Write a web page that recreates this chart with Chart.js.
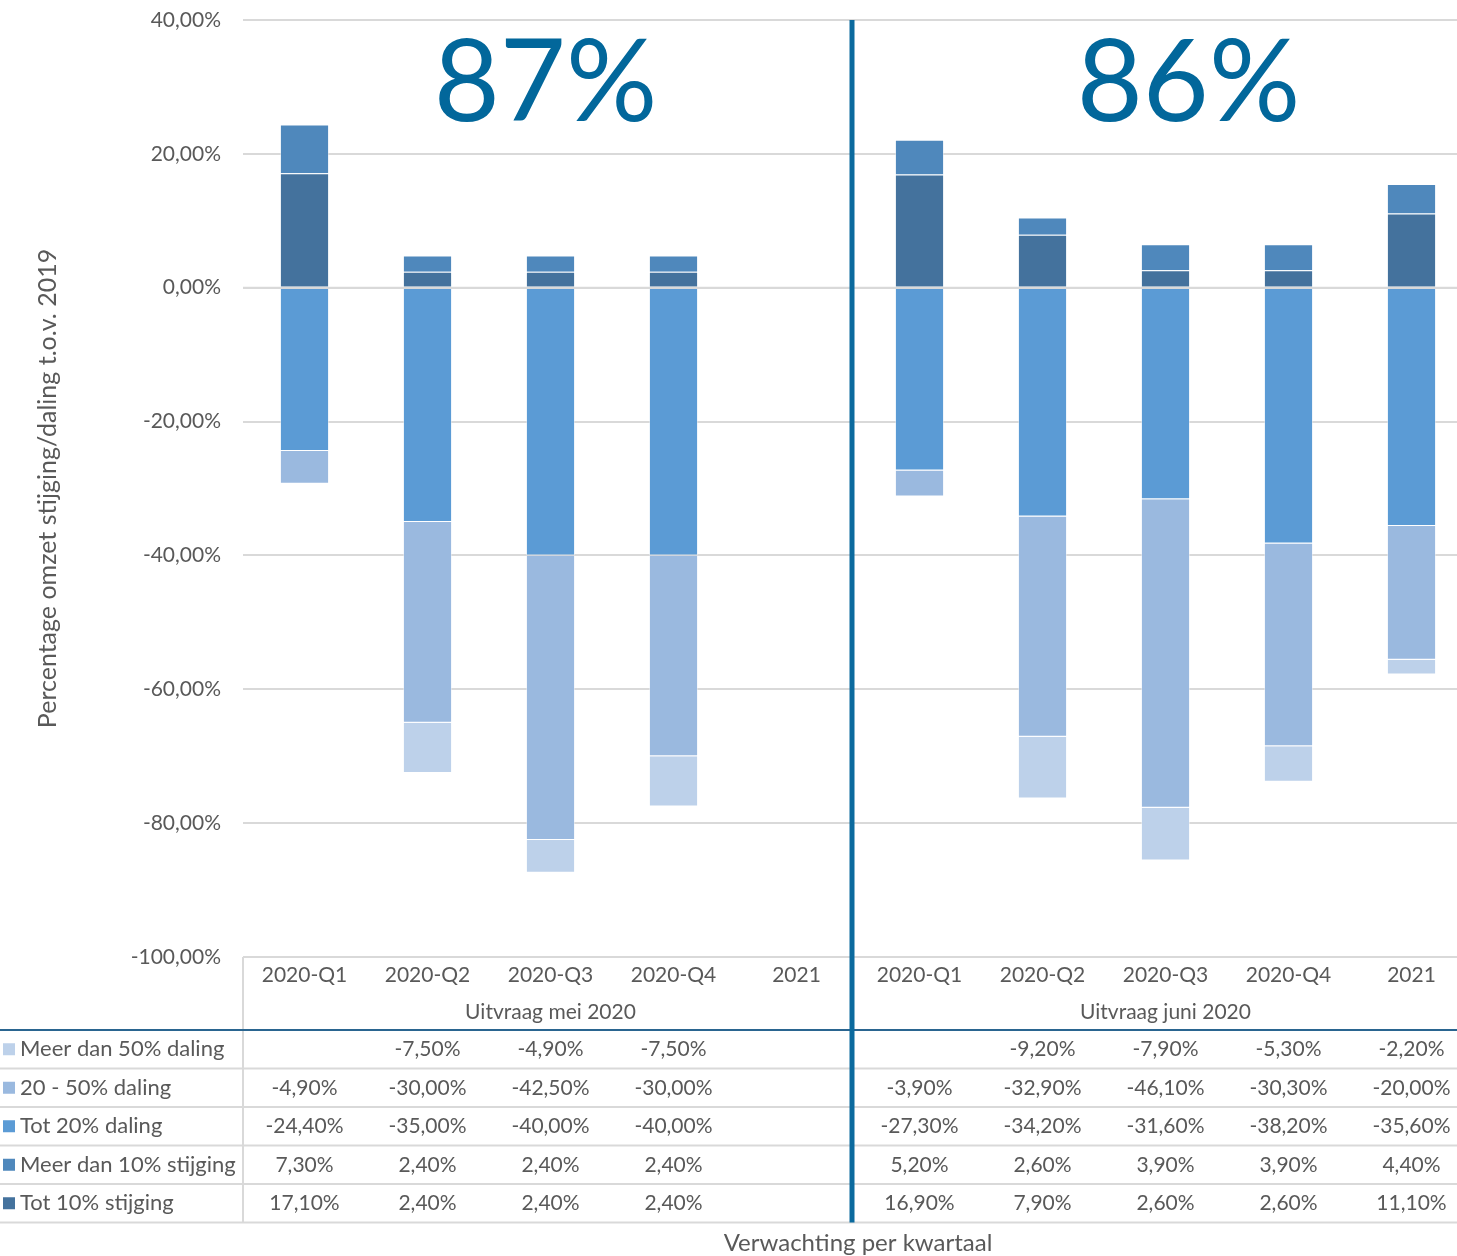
<!DOCTYPE html>
<html lang="nl">
  <head>
    <meta charset="UTF-8" />
    <title>Verwachting per kwartaal</title>
    <script src="https://cdn.jsdelivr.net/npm/chart.js"></script>
    <style>
      body { margin: 0; background: #ffffff; overflow: hidden; }
      /* het plotgebied loopt aan de rechterkant net buiten beeld door */
      #wrap { width: 1473px; height: 1256px; }
    </style>
  </head>
  <body>
    <div id="wrap"><canvas id="omzetChart" width="1473" height="1256"></canvas></div>

    <script>
      // Categorieen en groepen
      const kwartalen = ["2020-Q1", "2020-Q2", "2020-Q3", "2020-Q4", "2021",
                         "2020-Q1", "2020-Q2", "2020-Q3", "2020-Q4", "2021"];
      const groepen = ["Uitvraag mei 2020", "Uitvraag juni 2020"];
      const koppen = ["87%", "86%"];

      // Reeksen (percentages), null = geen waarde
      const tot10Stijging   = [17.1, 2.4, 2.4, 2.4, null, 16.9, 7.9, 2.6, 2.6, 11.1];
      const meer10Stijging  = [7.3, 2.4, 2.4, 2.4, null, 5.2, 2.6, 3.9, 3.9, 4.4];
      const tot20Daling     = [-24.4, -35.0, -40.0, -40.0, null, -27.3, -34.2, -31.6, -38.2, -35.6];
      const daling20tot50   = [-4.9, -30.0, -42.5, -30.0, null, -3.9, -32.9, -46.1, -30.3, -20.0];
      const meer50Daling    = [null, -7.5, -4.9, -7.5, null, null, -9.2, -7.9, -5.3, -2.2];

      // y-as
      const yMin = -100, yMax = 40, yStap = 20;

      const tekstKleur = "#595959";
      const lettertype = "Lato, 'Open Sans', sans-serif";

      function fmt(v) {
        if (v === null || v === undefined) return "";
        return v.toFixed(2).replace(".", ",") + "%";
      }

      // Tabel onder de grafiek + scheidingslijn + grote koppen
      const tabelPlugin = {
        id: "tabel",
        afterDatasetsDraw(chart) {
          const { ctx, chartArea, scales } = chart;
          // nul-lijn over de balken heen
          const y0 = scales.y.getPixelForValue(0);
          ctx.save();
          ctx.strokeStyle = "#D9D9D9";
          ctx.lineWidth = 2;
          ctx.beginPath();
          ctx.moveTo(chartArea.left, y0);
          ctx.lineTo(chartArea.right, y0);
          ctx.stroke();
          ctx.restore();
        },
        afterDraw(chart) {
          const { ctx, chartArea, scales } = chart;
          const x = scales.x;
          const W = chart.width;
          const rijTop = 1030, rijH = 38.5;
          ctx.save();

          // lijnen tabel
          ctx.strokeStyle = "#D9D9D9";
          ctx.lineWidth = 2;
          ctx.beginPath();
          ctx.moveTo(chartArea.left, chartArea.bottom);
          ctx.lineTo(chartArea.left, rijTop + 5 * rijH);
          for (let r = 1; r <= 5; r++) {
            ctx.moveTo(0, rijTop + r * rijH);
            ctx.lineTo(W, rijTop + r * rijH);
          }
          ctx.stroke();
          ctx.strokeStyle = "#2A6590";
          ctx.lineWidth = 2;
          ctx.beginPath();
          ctx.moveTo(0, rijTop);
          ctx.lineTo(W, rijTop);
          ctx.stroke();

          // kwartaal labels
          ctx.fillStyle = tekstKleur;
          ctx.font = "21px " + lettertype;
          ctx.textAlign = "center";
          ctx.textBaseline = "middle";
          kwartalen.forEach((k, i) => ctx.fillText(k, x.getPixelForValue(i), 975));
          groepen.forEach((g, gi) => {
            const midden = (x.getPixelForValue(gi * 5) + x.getPixelForValue(gi * 5 + 4)) / 2;
            ctx.fillText(g, midden, 1012);
          });

          // rijen: van boven naar beneden in omgekeerde dataset volgorde
          const sets = chart.data.datasets.slice().reverse();
          sets.forEach((ds, r) => {
            const yc = rijTop + r * rijH + rijH / 2;
            ctx.fillStyle = ds.backgroundColor;
            ctx.fillRect(3, yc - 6, 12, 12);
            ctx.fillStyle = tekstKleur;
            ctx.textAlign = "left";
            ctx.font = "22px " + lettertype;
            ctx.fillText(ds.label, 20, yc);
            ctx.textAlign = "center";
            ctx.font = "21px " + lettertype;
            ds.data.forEach((v, i) => ctx.fillText(fmt(v), x.getPixelForValue(i), yc));
          });

          // as titel x
          ctx.font = "24px " + lettertype;
          ctx.fillText("Verwachting per kwartaal", (chartArea.left + chartArea.right) / 2, 1243);

          // scheidingslijn tussen de twee uitvragen
          const sx = (x.getPixelForValue(4) + x.getPixelForValue(5)) / 2 - 6;
          ctx.strokeStyle = "#0B6A9E";
          ctx.lineWidth = 5;
          ctx.beginPath();
          ctx.moveTo(sx, chartArea.top);
          ctx.lineTo(sx, rijTop + 5 * rijH);
          ctx.stroke();

          // grote koppen (tekstvakken, iets verschoven t.o.v. het groepsmidden)
          const kopVerschuiving = [-5, 23];
          ctx.fillStyle = "#02679B";
          ctx.font = "114px " + lettertype;
          ctx.textBaseline = "alphabetic";
          koppen.forEach((k, gi) => {
            const midden = (x.getPixelForValue(gi * 5) + x.getPixelForValue(gi * 5 + 4)) / 2;
            ctx.fillText(k, midden + kopVerschuiving[gi], 121);
          });
          ctx.restore();
        },
      };

      const randKleur = "rgba(255, 255, 255, 0.45)";
      const ctx = document.getElementById("omzetChart").getContext("2d");
      const omzetChart = new Chart(ctx, {
        type: "bar",
        data: {
          labels: kwartalen,
          datasets: [
            { label: "Tot 10% stijging", data: tot10Stijging, backgroundColor: "#44729D" },
            { label: "Meer dan 10% stijging", data: meer10Stijging, backgroundColor: "#4F88BC" },
            { label: "Tot 20% daling", data: tot20Daling, backgroundColor: "#5B9BD5" },
            { label: "20 - 50% daling", data: daling20tot50, backgroundColor: "#9AB9DF" },
            { label: "Meer dan 50% daling", data: meer50Daling, backgroundColor: "#BDD1EA" },
          ],
        },
        options: {
          responsive: false,
          animation: false,
          layout: { padding: { top: 20, bottom: 299, left: 0, right: 0 } },
          datasets: {
            bar: {
              barPercentage: 0.4,
              categoryPercentage: 1.0,
              borderColor: randKleur,
              borderWidth: 1,
            },
          },
          plugins: {
            legend: { display: false },
            tooltip: { enabled: false },
          },
          scales: {
            x: {
              stacked: true,
              display: false,
            },
            y: {
              stacked: true,
              min: yMin,
              max: yMax,
              afterFit: (scale) => {
                scale.width = 243;
                scale.paddingTop = 0;
                scale.paddingBottom = 0;
              },
              ticks: {
                stepSize: yStap,
                padding: 22,
                color: tekstKleur,
                font: { family: lettertype, size: 21 },
                callback: (v) => fmt(v),
              },
              grid: { color: "#D9D9D9", lineWidth: 2, drawTicks: false },
              border: { display: false },
              title: {
                display: true,
                text: "Percentage omzet stijging/daling t.o.v. 2019",
                color: tekstKleur,
                font: { family: lettertype, size: 25 },
                padding: { top: 33, bottom: 0 },
              },
            },
          },
        },
        plugins: [tabelPlugin],
      });
    </script>
  </body>
</html>
